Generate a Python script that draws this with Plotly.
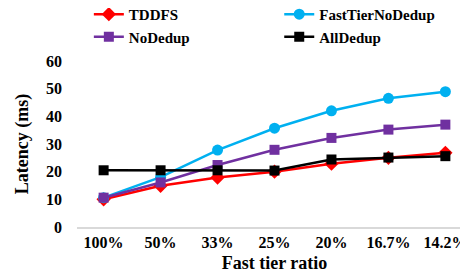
import plotly.graph_objects as go

categories = ["100%", "50%", "33%", "25%", "20%", "16.7%", "14.2%"]
y_ticks = [0, 10, 20, 30, 40, 50, 60]
tddfs = [10.0, 14.9, 17.9, 20.0, 22.9, 25.0, 26.8]
fast_tier_nodedup = [10.6, 18.0, 27.8, 35.7, 42.0, 46.5, 48.9]
nodedup = [10.6, 16.1, 22.4, 27.9, 32.2, 35.2, 37.0]
alldedup = [20.5, 20.5, 20.5, 20.4, 24.4, 25.1, 25.6]

series = [
    ("TDDFS", tddfs, "#FF0000", "diamond", 11, "legend"),
    ("FastTierNoDedup", fast_tier_nodedup, "#00B0F0", "circle", 11, "legend2"),
    ("NoDedup", nodedup, "#7030A0", "square", 10, "legend"),
    ("AllDedup", alldedup, "#000000", "square", 10, "legend2"),
]

ff = "Liberation Serif, Times New Roman, serif"
fig = go.Figure()
for name, vals, color, sym, size, lg in series:
    fig.add_trace(go.Scatter(
        x=categories, y=vals, name="<b>" + name + "</b>", mode="lines+markers",
        line=dict(color=color, width=2.5),
        marker=dict(symbol=sym, size=size, color=color),
        legend=lg,
    ))

leg_common = dict(
    orientation="v", yanchor="top", y=1.38, xanchor="left",
    font=dict(family=ff, size=15, color="black"),
    bgcolor="rgba(0,0,0,0)", tracegroupgap=0, borderwidth=0,
)

fig.update_layout(
    width=468, height=274,
    margin=dict(l=69, r=4, t=53, b=55, autoexpand=False),
    paper_bgcolor="white", plot_bgcolor="white",
    font=dict(family=ff, size=16, color="black"),
    showlegend=True,
    legend=dict(x=0.03, **leg_common),
    legend2=dict(x=0.512, **leg_common),
    xaxis=dict(
        type="category", showgrid=False, showline=True, linecolor="#D9D9D9",
        linewidth=1.5, ticks="", zeroline=False, automargin=False,
        tickmode="array", tickvals=categories,
        ticktext=["<b>" + c + "</b>" for c in categories],
        tickfont=dict(family=ff, size=16),
        title=dict(text="<b>Fast tier ratio</b>", font=dict(family=ff, size=18), standoff=6),
    ),
    yaxis=dict(
        range=[0, 60], showgrid=False, showline=False, zeroline=False, automargin=False,
        tickmode="array", tickvals=y_ticks,
        ticktext=["<b>" + str(v) + "</b>" for v in y_ticks],
        tickfont=dict(family=ff, size=16), ticklabelstandoff=14,
        title=dict(text="<b>Latency (ms)</b>", font=dict(family=ff, size=18), standoff=12),
    ),
)

fig.write_html("out.html")
